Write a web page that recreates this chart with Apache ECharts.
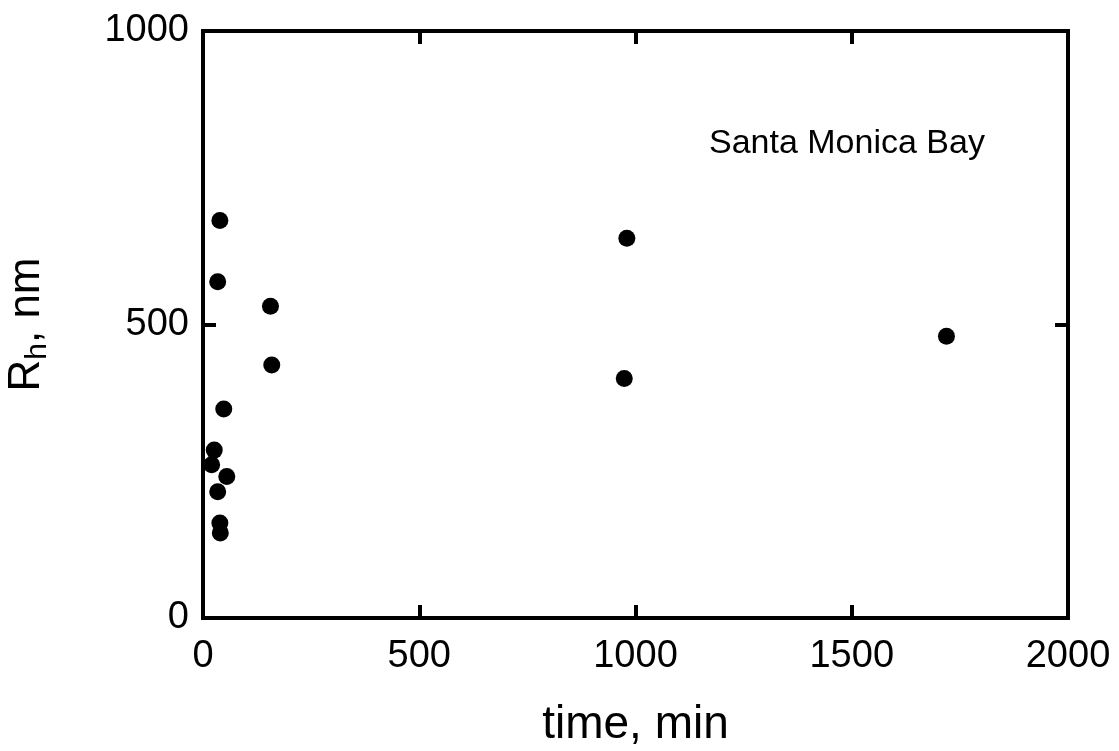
<!DOCTYPE html>
<html>
<head>
<meta charset="utf-8">
<script src="https://cdn.jsdelivr.net/npm/echarts@6/dist/echarts.min.js"></script>
<style>
  html, body { margin: 0; padding: 0; background: #fff; }
  #main { width: 1119px; height: 751px; }
</style>
</head>
<body>
<div id="main"></div>
<script>
  // time (min) and hydrodynamic radius (nm)
  var timeMin = [39, 34, 156, 159, 48, 26, 20, 55, 34, 39, 40, 980, 974, 1719];
  var rhNm    = [677, 573, 531, 431, 356, 286, 261, 241, 215, 162, 145, 647, 408, 480];
  var xTicks = [0, 500, 1000, 1500, 2000];
  var yTicks = [0, 500, 1000];

  var points = timeMin.map(function (t, i) { return [t, rhNm[i]]; });

  var chart = echarts.init(document.getElementById('main'));
  var font = 'Liberation Sans, Arial, Helvetica, sans-serif';

  // hidden mirror axes only give the tick marks on top / right
  var baseX = {
    type: 'value', min: 0, max: 2000, interval: 500,
    splitLine: { show: false },
    axisLine: { show: false, onZero: false },
    axisTick: { show: true, inside: true, length: 13, lineStyle: { color: '#000', width: 4 } }
  };
  var baseY = {
    type: 'value', min: 0, max: 1000, interval: 500,
    splitLine: { show: false },
    axisLine: { show: false, onZero: false },
    axisTick: { show: true, inside: true, length: 13, lineStyle: { color: '#000', width: 4 } }
  };

  var option = {
    backgroundColor: '#fff',
    animation: false,
    grid: {
      left: 203, right: 51, top: 31, bottom: 133,
      outerBoundsMode: 'none',
      show: true, borderColor: '#000', borderWidth: 4, backgroundColor: 'transparent'
    },
    title: {
      text: 'Santa Monica Bay',
      left: 704, top: 122,
      textStyle: { fontFamily: font, fontSize: 34, fontWeight: 'normal', color: '#000' }
    },
    xAxis: [
      Object.assign({}, baseX, {
        position: 'bottom',
        name: 'time, min', nameLocation: 'middle', nameGap: 84,
        nameTextStyle: { fontFamily: font, fontSize: 46, color: '#000' },
        axisLabel: { fontFamily: font, fontSize: 38, color: '#000', margin: 20,
          formatter: function (v) { return xTicks.indexOf(v) >= 0 ? String(v) : ''; } }
      }),
      Object.assign({}, baseX, { position: 'top', axisLabel: { show: false } })
    ],
    yAxis: [
      Object.assign({}, baseY, {
        position: 'left',
        name: '{r|R}{s|h}{r|, nm}', nameLocation: 'middle', nameGap: 150,
        nameTextStyle: {
          rich: {
            r: { fontFamily: font, fontSize: 44, color: '#000' },
            s: { fontFamily: font, fontSize: 30, color: '#000', padding: [22, 0, 0, 0] }
          }
        },
        axisLabel: { fontFamily: font, fontSize: 38, color: '#000', margin: 14,
          formatter: function (v) { return yTicks.indexOf(v) >= 0 ? String(v) : ''; } }
      }),
      Object.assign({}, baseY, { position: 'right', axisLabel: { show: false } })
    ],
    series: [{
      type: 'scatter',
      data: points,
      symbol: 'circle',
      symbolSize: 17,
      itemStyle: { color: '#000', opacity: 1 }
    }]
  };

  chart.setOption(option);
</script>
</body>
</html>
